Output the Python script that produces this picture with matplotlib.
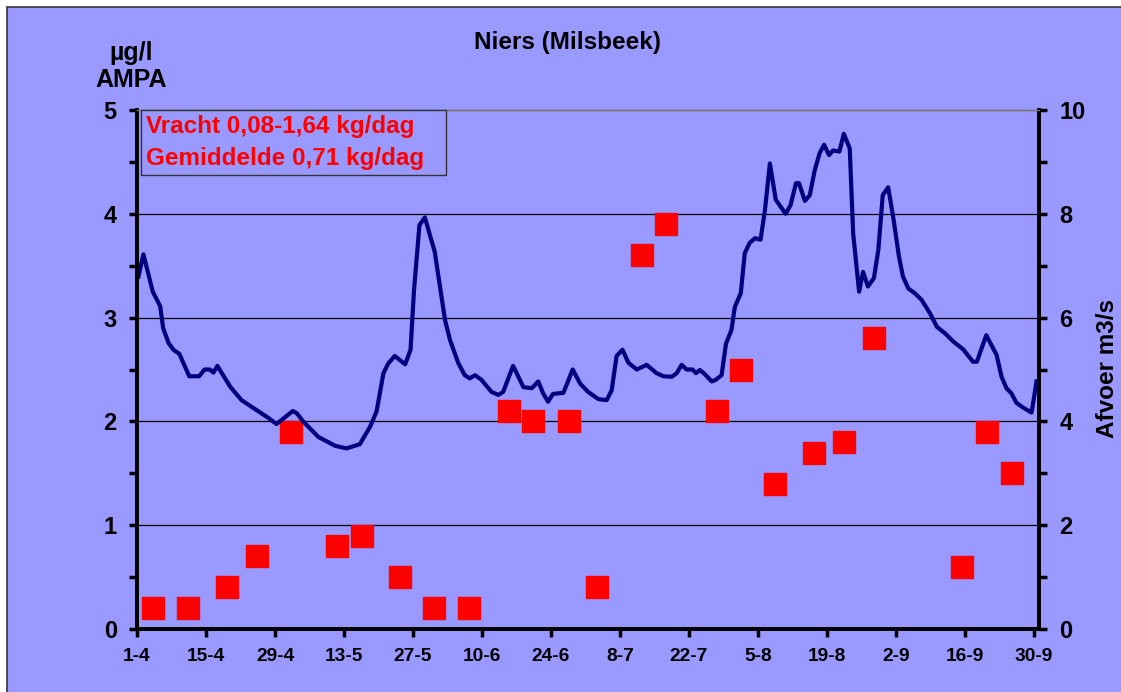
import matplotlib
matplotlib.use('Agg')
import matplotlib.pyplot as plt
from matplotlib.patches import Rectangle

plt.rcParams['font.family'] = ['Liberation Sans', 'DejaVu Sans']
plt.rcParams['font.weight'] = 'bold'

# dagindex vanaf 1-4
tick_days = [0, 14, 28, 42, 56, 70, 84, 98, 112, 126, 140, 154, 168, 182]
tick_labels = ['1-4', '15-4', '29-4', '13-5', '27-5', '10-6', '24-6', '8-7',
               '22-7', '5-8', '19-8', '2-9', '16-9', '30-9']

# AMPA (ug/l)
ampa_day = [3.3, 10.4, 18.3, 24.4, 31.2, 40.5, 45.6, 53.3, 60.3, 67.4, 75.5, 80.4,
            87.6, 93.4, 102.5, 107.4, 117.6, 122.6, 129.5, 137.4, 143.5, 149.6,
            167.4, 172.4, 177.5]
ampa = [0.2, 0.2, 0.4, 0.7, 1.9, 0.8, 0.9, 0.5, 0.2, 0.2, 2.1, 2.0,
        2.0, 0.4, 3.6, 3.9, 2.1, 2.5, 1.4, 1.7, 1.8, 2.8,
        0.6, 1.9, 1.5]

# afvoer (m3/s)
flow_day = [0.3, 1.3, 3.2, 4.7, 5.3, 6.4, 7.4, 8.6, 10.6, 12.6, 13.7, 14.8, 15.5, 16.3,
            18.9, 21.2, 23.9, 26.6, 28.3, 31.6, 32.4, 33.7, 36.8, 40.2, 42.5, 45.2,
            47.3, 48.6, 50.0, 51.0, 52.3, 54.4, 55.5, 56.2, 57.3, 58.4, 60.4, 62.5,
            63.5, 65.2, 66.5, 67.5, 68.6, 69.9, 71.9, 73.3, 74.3, 76.3, 78.4, 80.1,
            81.4, 82.4, 83.4, 84.4, 86.5, 88.4, 89.9, 91.5, 93.6, 95.3, 96.3, 97.3,
            98.5, 99.7, 101.4, 103.4, 105.4, 106.8, 108.5, 109.5, 110.5, 111.5, 112.7,
            113.4, 114.2, 115.2, 116.6, 117.4, 118.6, 119.5, 120.6, 121.3, 122.5,
            123.3, 124.3, 125.4, 126.5, 127.4, 128.4, 129.6, 131.6, 132.6, 133.7,
            134.3, 135.5, 136.5, 137.5, 138.5, 139.4, 140.4, 141.2, 142.5, 143.4,
            144.6, 145.3, 146.5, 147.3, 148.3, 149.5, 150.4, 151.3, 152.4, 153.4,
            154.6, 155.4, 156.5, 157.8, 159.2, 160.9, 162.3, 163.9, 165.6, 167.6,
            169.6, 170.4, 172.3, 174.4, 175.4, 176.4, 177.4, 178.4, 179.7, 181.5, 182.5]
flow = [6.79, 7.22, 6.5, 6.22, 5.8, 5.51, 5.38, 5.3, 4.87, 4.87, 5.0, 5.0, 4.94, 5.07,
        4.67, 4.41, 4.24, 4.07, 3.95, 4.2, 4.16, 4.0, 3.7, 3.53, 3.48, 3.56,
        3.9, 4.19, 4.93, 5.12, 5.26, 5.1, 5.38, 6.53, 7.78, 7.93, 7.27, 5.95,
        5.57, 5.12, 4.89, 4.83, 4.89, 4.8, 4.57, 4.51, 4.57, 5.07, 4.66, 4.64,
        4.77, 4.54, 4.38, 4.53, 4.55, 5.0, 4.73, 4.57, 4.43, 4.41, 4.6, 5.26,
        5.38, 5.13, 5.0, 5.09, 4.93, 4.87, 4.86, 4.93, 5.09, 5.0, 5.0,
        4.93, 4.99, 4.91, 4.77, 4.8, 4.89, 5.5, 5.76, 6.21, 6.47,
        7.24, 7.44, 7.53, 7.5, 8.07, 8.97, 8.27, 8.0, 8.17, 8.59,
        8.59, 8.25, 8.36, 8.84, 9.17, 9.33, 9.13, 9.22, 9.2, 9.54,
        9.26, 7.62, 6.5, 6.88, 6.6, 6.76, 7.3, 8.36, 8.51, 7.95,
        7.17, 6.79, 6.56, 6.47, 6.34, 6.08, 5.82, 5.7, 5.54, 5.39,
        5.15, 5.15, 5.66, 5.28, 4.86, 4.64, 4.54, 4.36, 4.27, 4.17, 4.77]

W, H = 1121, 692
bg = '#9999FF'


def fx(x):
    return x / W


def fy(y):
    return 1 - y / H


fig = plt.figure(figsize=(W / 100, H / 100), dpi=100, facecolor='white')
fig.patches.append(Rectangle((fx(7), fy(760)), fx(1200) - fx(7), fy(7) - fy(760),
                             transform=fig.transFigure, facecolor=bg,
                             edgecolor='#333333', lw=1.2, zorder=-1))

ax = fig.add_axes([fx(137), fy(629), fx(1039) - fx(137), fy(110) - fy(629)])
ax.set_facecolor(bg)
ax2 = ax.twinx()

ax.plot(ampa_day, ampa, 's', color='#FF0000', markersize=16.5, zorder=3)
ax2.plot(flow_day, flow, color='#000080', lw=3, solid_joinstyle='round')

ax.set_xlim(0, 183)
ax.set_ylim(0, 5)
ax2.set_ylim(0, 10)
for y in [1, 2, 3, 4]:
    ax.axhline(y, color='black', lw=0.9, zorder=1)

ax.set_xticks(tick_days)
ax.set_xticklabels(tick_labels, fontsize=13.8, fontweight='bold')
ax.set_yticks([0, 1, 2, 3, 4, 5])
ax.set_yticks([0.5, 1.5, 2.5, 3.5, 4.5], minor=True)
ax.set_yticklabels(['0', '1', '2', '3', '4', '5'], fontsize=17, fontweight='bold')
ax2.set_yticks([0, 2, 4, 6, 8, 10])
ax2.set_yticks([1, 3, 5, 7, 9], minor=True)
ax2.set_yticklabels(['0', '2', '4', '6', '8', '10'], fontsize=17, fontweight='bold')

for a in (ax, ax2):
    a.tick_params(which='both', length=6, width=2.5, color='black')
    a.tick_params(axis='x', pad=8)
    a.spines['top'].set_color('#777777')
    a.spines['top'].set_linewidth(1)
    for s in ('left', 'right', 'bottom'):
        a.spines[s].set_linewidth(2.6)
ax.tick_params(axis='y', pad=8.5)
ax2.tick_params(axis='y', pad=8.5)

fig.text(fx(568), fy(43), 'Niers (Milsbeek)', ha='center', va='center',
         fontsize=17.5, fontweight='bold')
fig.text(fx(131), fy(53), 'µg/l', ha='center', va='center', fontsize=18, fontweight='bold')
fig.text(fx(131), fy(80), 'AMPA', ha='center', va='center', fontsize=18, fontweight='bold')
fig.text(fx(1108), fy(369), 'Afvoer m3/s', ha='center', va='center', rotation=90,
         fontsize=17.5, fontweight='bold')

fig.patches.append(Rectangle((fx(141), fy(175)), fx(446) - fx(141), fy(110) - fy(175),
                             transform=fig.transFigure, facecolor=bg,
                             edgecolor='#333333', lw=1, zorder=5))
fig.text(fx(146), fy(127), 'Vracht 0,08-1,64 kg/dag', ha='left', va='center',
         fontsize=17.5, fontweight='bold', color='#FF0000', zorder=6)
fig.text(fx(146), fy(158), 'Gemiddelde 0,71 kg/dag', ha='left', va='center',
         fontsize=17.5, fontweight='bold', color='#FF0000', zorder=6)

fig.savefig('out.png', dpi=100, facecolor='white')
